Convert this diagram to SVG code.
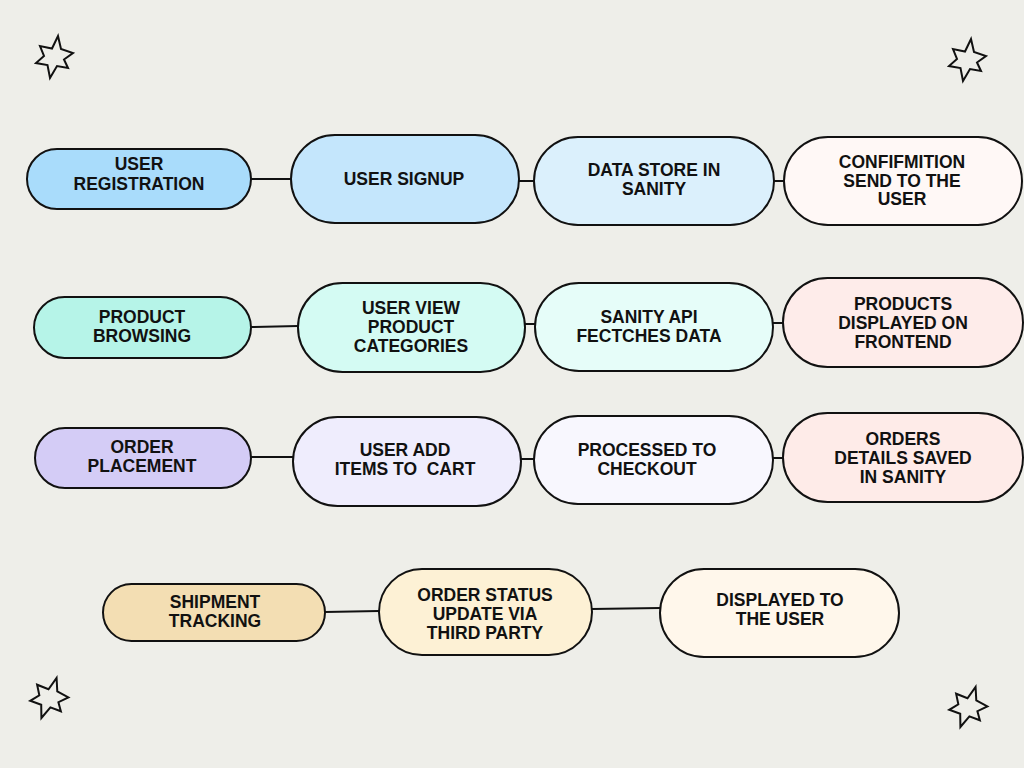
<svg xmlns="http://www.w3.org/2000/svg" xmlns:xlink="http://www.w3.org/1999/xlink" width="1024" height="768" viewBox="0 0 1024 768">
<style>
.pill{stroke:#111;stroke-width:2}
.lbl{font-family:"Liberation Sans",Arial,sans-serif;font-weight:bold;font-size:17.5px;fill:#111;text-anchor:middle}
.conn line{stroke:#111;stroke-width:2}
.star{fill:none;stroke:#111;stroke-width:2;stroke-linejoin:miter}
</style>
<defs>
<path id="star" d="M4,-21 L7,-8 L19,-4 L10,2.5 L14,11 L3,9 L-4,21 L-6.5,8 L-18,6 L-10,-1 L-14,-11 L-2,-8.5 Z"/>
</defs>
<rect width="1024" height="768" fill="#eeeee9"/>

<g id="stars">
<use xlink:href="#star" class="star" transform="translate(54,57)"/>
<use xlink:href="#star" class="star" transform="translate(967,60)"/>
<use xlink:href="#star" class="star" transform="translate(49,698) rotate(10)"/>
<use xlink:href="#star" class="star" transform="translate(968,707) rotate(10)"/>
</g>

<g id="connectors" class="conn">
<line x1="251" y1="179" x2="291" y2="179"/>
<line x1="519" y1="181" x2="534" y2="181"/>
<line x1="774" y1="181" x2="784" y2="181"/>
<line x1="251" y1="327" x2="298" y2="326"/>
<line x1="525" y1="324" x2="535" y2="324"/>
<line x1="773" y1="323" x2="783" y2="323"/>
<line x1="251" y1="457" x2="293" y2="457"/>
<line x1="521" y1="459" x2="534" y2="459"/>
<line x1="773" y1="458" x2="783" y2="458"/>
<line x1="325" y1="612" x2="379" y2="611"/>
<line x1="592" y1="609" x2="660" y2="608"/>
</g>

<g id="user-registration">
<rect class="pill" x="27" y="149" width="224" height="60" rx="30" fill="#a9dcfb"/>
<text class="lbl"><tspan x="139" y="170">USER</tspan><tspan x="139" y="190">REGISTRATION</tspan></text>
</g>
<g id="user-signup">
<rect class="pill" x="291" y="135" width="228" height="88" rx="44" fill="#c4e6fc"/>
<text class="lbl" x="404" y="185">USER SIGNUP</text>
</g>
<g id="data-store">
<rect class="pill" x="534" y="137" width="240" height="88" rx="44" fill="#dbf0fc"/>
<text class="lbl"><tspan x="654" y="176">DATA STORE IN</tspan><tspan x="654" y="195">SANITY</tspan></text>
</g>
<g id="confirmation">
<rect class="pill" x="784" y="137" width="238" height="88" rx="44" fill="#fff8f6"/>
<text class="lbl"><tspan x="902" y="168">CONFIFMITION</tspan><tspan x="902" y="187">SEND TO THE</tspan><tspan x="902" y="205">USER</tspan></text>
</g>

<g id="product-browsing">
<rect class="pill" x="34" y="297" width="217" height="61" rx="30.5" fill="#b6f4e8"/>
<text class="lbl"><tspan x="142" y="323">PRODUCT</tspan><tspan x="142" y="342">BROWSING</tspan></text>
</g>
<g id="user-view">
<rect class="pill" x="298" y="283" width="227" height="89" rx="44.5" fill="#d4fbf3"/>
<text class="lbl"><tspan x="411" y="314">USER VIEW</tspan><tspan x="411" y="333">PRODUCT</tspan><tspan x="411" y="352">CATEGORIES</tspan></text>
</g>
<g id="sanity-api">
<rect class="pill" x="535" y="283" width="238" height="88" rx="44" fill="#e6fdf9"/>
<text class="lbl"><tspan x="649" y="323">SANITY API</tspan><tspan x="649" y="342">FECTCHES DATA</tspan></text>
</g>
<g id="products-displayed">
<rect class="pill" x="783" y="278" width="240" height="89" rx="44.5" fill="#feecea"/>
<text class="lbl"><tspan x="903" y="310">PRODUCTS</tspan><tspan x="903" y="329">DISPLAYED ON</tspan><tspan x="903" y="348">FRONTEND</tspan></text>
</g>

<g id="order-placement">
<rect class="pill" x="35" y="428" width="216" height="60" rx="30" fill="#d4ccf6"/>
<text class="lbl"><tspan x="142" y="453">ORDER</tspan><tspan x="142" y="472">PLACEMENT</tspan></text>
</g>
<g id="user-add">
<rect class="pill" x="293" y="417" width="228" height="89" rx="44.5" fill="#efedfd"/>
<text class="lbl" xml:space="preserve" style="white-space:pre"><tspan x="405" y="456">USER ADD</tspan><tspan x="405" y="475">ITEMS TO  CART</tspan></text>
</g>
<g id="checkout">
<rect class="pill" x="534" y="416" width="239" height="88" rx="44" fill="#f8f7fe"/>
<text class="lbl"><tspan x="647" y="456">PROCESSED TO</tspan><tspan x="647" y="475">CHECKOUT</tspan></text>
</g>
<g id="orders-saved">
<rect class="pill" x="783" y="413" width="240" height="89" rx="44.5" fill="#feebe8"/>
<text class="lbl"><tspan x="903" y="445">ORDERS</tspan><tspan x="903" y="464">DETAILS SAVED</tspan><tspan x="903" y="483">IN SANITY</tspan></text>
</g>

<g id="shipment-tracking">
<rect class="pill" x="103" y="584" width="222" height="57" rx="28.5" fill="#f3deb3"/>
<text class="lbl"><tspan x="215" y="608">SHIPMENT</tspan><tspan x="215" y="627">TRACKING</tspan></text>
</g>
<g id="order-status">
<rect class="pill" x="379" y="569" width="213" height="86" rx="43" fill="#fdf1d5"/>
<text class="lbl"><tspan x="485" y="601">ORDER STATUS</tspan><tspan x="485" y="620">UPDATE VIA</tspan><tspan x="485" y="639">THIRD PARTY</tspan></text>
</g>
<g id="displayed-user">
<rect class="pill" x="660" y="569" width="239" height="88" rx="44" fill="#fff7eb"/>
<text class="lbl"><tspan x="780" y="606">DISPLAYED TO</tspan><tspan x="780" y="625">THE USER</tspan></text>
</g>
</svg>
